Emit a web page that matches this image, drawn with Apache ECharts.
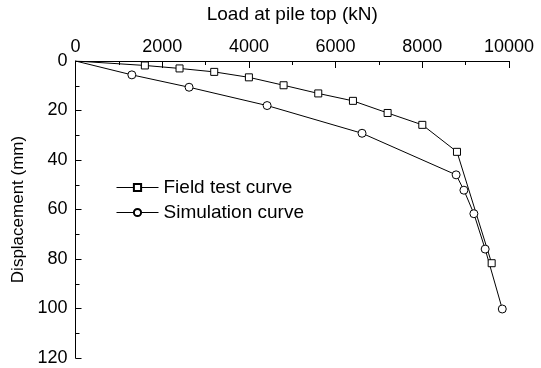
<!DOCTYPE html>
<html>
<head>
<meta charset="utf-8">
<script src="https://cdn.jsdelivr.net/npm/echarts@6/dist/echarts.min.js"></script>
<style>
  html, body { margin: 0; padding: 0; background: #fff; }
  #chart { width: 541px; height: 368px; }
</style>
</head>
<body>
<div id="chart"></div>
<script>
// Load (kN) and settlement (mm) of the test pile
var fieldLoad = [0, 1600, 2400, 3200, 4000, 4800, 5600, 6400, 7200, 8000, 8800, 9600];
var fieldDisp = [0, 1.8, 3.0, 4.4, 6.6, 9.8, 13.1, 16.1, 21.0, 25.8, 36.7, 81.7];
var simLoad = [0, 1300, 2620, 4420, 6610, 8780, 8960, 9190, 9450, 9845];
var simDisp = [0, 5.6, 10.6, 18.0, 29.2, 46.0, 52.2, 61.7, 76.0, 100.2];

var xTicks = { min: 0, max: 10000, interval: 2000 };
var yTicks = { min: 0, max: 120, interval: 20 };

var FONT = 'Liberation Sans, Arial, sans-serif';

// Origin point has no marker; every measured point does
function toPoints(xs, ys) {
  return xs.map(function (x, i) {
    var p = { value: [x, ys[i]] };
    if (i === 0) p.symbolSize = 0;
    return p;
  });
}

var chart = echarts.init(document.getElementById('chart'));
chart.setOption({
  backgroundColor: '#fff',
  animation: false,
  textStyle: { fontFamily: FONT, color: '#000' },
  grid: { left: 75.5, top: 56, width: 433.5, height: 302 },
  legend: {
    left: 111,
    top: 173,
    orient: 'vertical',
    itemWidth: 42,
    itemHeight: 9,
    itemGap: 6,
    lineStyle: { width: 1 },
    textStyle: { fontFamily: FONT, fontSize: 19, color: '#000' },
    data: ['Field test curve', 'Simulation curve']
  },
  xAxis: {
    type: 'value',
    position: 'top',
    min: xTicks.min, max: xTicks.max, interval: xTicks.interval,
    name: 'Load at pile top (kN)',
    nameLocation: 'middle',
    nameGap: 37,
    nameTextStyle: { fontFamily: FONT, fontSize: 19, color: '#000' },
    axisLine: { show: true, lineStyle: { color: '#000', width: 1 } },
    axisTick: { show: true, inside: true, length: 7, lineStyle: { color: '#000' } },
    minorTick: { show: true, splitNumber: 2, length: 4, lineStyle: { color: '#000' } },
    axisLabel: {
      fontFamily: FONT, fontSize: 18, color: '#000', margin: 5,
      formatter: function (v) { return String(v); }
    },
    splitLine: { show: false }
  },
  yAxis: {
    type: 'value',
    inverse: true,
    min: yTicks.min, max: yTicks.max, interval: yTicks.interval,
    name: 'Displacement (mm)',
    nameLocation: 'middle',
    nameRotate: 90,
    nameGap: 46,
    nameTextStyle: { fontFamily: FONT, fontSize: 17, color: '#000' },
    axisLine: { show: true, lineStyle: { color: '#000', width: 1 } },
    axisTick: { show: true, inside: true, length: 6, lineStyle: { color: '#000' } },
    minorTick: { show: true, splitNumber: 2, length: 4, lineStyle: { color: '#000' } },
    axisLabel: { fontFamily: FONT, fontSize: 18, color: '#000', margin: 8 },
    splitLine: { show: false }
  },
  series: [
    {
      name: 'Field test curve',
      type: 'line',
      data: toPoints(fieldLoad, fieldDisp),
      symbol: 'rect',
      symbolSize: 7,
      showAllSymbol: true,
      lineStyle: { color: '#000', width: 1 },
      itemStyle: { color: '#fff', borderColor: '#000', borderWidth: 1 }
    },
    {
      name: 'Simulation curve',
      type: 'line',
      data: toPoints(simLoad, simDisp),
      symbol: 'circle',
      symbolSize: 8,
      showAllSymbol: true,
      lineStyle: { color: '#000', width: 1 },
      itemStyle: { color: '#fff', borderColor: '#000', borderWidth: 1 }
    }
  ]
});
</script>
</body>
</html>
